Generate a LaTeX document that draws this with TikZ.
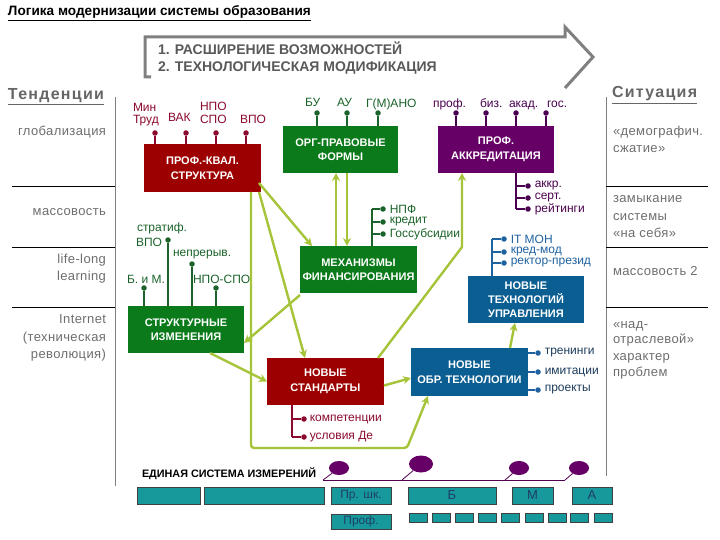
\documentclass[tikz,border=0pt]{standalone}
\usepackage{fontspec}
\setmainfont{Liberation Sans}
\newfontfamily\sidefont[LetterSpace=3]{Liberation Sans}
\newfontfamily\headfont[LetterSpace=8]{Liberation Sans}
\usetikzlibrary{arrows.meta,calc,shapes.geometric}
\definecolor{dred}{HTML}{9C0000}
\definecolor{dgreen}{HTML}{0B7A1A}
\definecolor{dpurple}{HTML}{660066}
\definecolor{dblue}{HTML}{0A5E92}
\definecolor{yg}{HTML}{A5C43A}
\definecolor{lred}{HTML}{8B0A2E}
\definecolor{lgreen}{HTML}{1B632A}
\definecolor{lpurple}{HTML}{4A0050}
\definecolor{lblue}{HTML}{1F62A0}
\definecolor{lnavy}{HTML}{1D3D5C}
\definecolor{gtext}{HTML}{6E6E6E}
\definecolor{teal1}{HTML}{17999B}
\definecolor{tealtext}{HTML}{1F3F66}
\newcommand\fsz[1]{\fontsize{#1}{#1}\selectfont}
\begin{document}
\begin{tikzpicture}[x=1pt,y=-1pt,
  every node/.style={inner sep=0pt,outer sep=0pt},
  box/.style={text=white,font=\fontsize{11}{14.5}\selectfont\bfseries,align=center,minimum width=116pt,minimum height=47pt},
  lab/.style={font=\fsz{12}},
  side/.style={font=\sidefont\fsz{13},text=gtext},
  dotn/.style={circle,minimum size=5.5pt},
  pinl/.style={line width=2pt},
  arr/.style={draw=yg,line width=2.4pt,-{Stealth[length=8pt,width=8pt]}},
  tealbox/.style={draw=black!75,fill=teal1,line width=0.8pt,text=tealtext,font=\fsz{12}},
  pdot/.style={ellipse,fill=dpurple}
]
\useasboundingbox (0,0) rectangle (720,540);
\fill[white] (0,0) rectangle (720,540);

% title
\node[anchor=base west,font=\fsz{13.6}\bfseries] (title) at (8,16) {\underline{Логика модернизации системы образования}};

% big arrow
\draw[gray,line width=3pt,line join=miter] (151,77) -- (145,77) -- (145,37) -- (565,37) -- (565,27) -- (593,57) -- (565,88);
\node[anchor=base west,font=\fsz{14}\bfseries,text=black!65] (t1) at (158,55) {1. РАСШИРЕНИЕ ВОЗМОЖНОСТЕЙ};
\node[anchor=base west,font=\fsz{14}\bfseries,text=black!65] (t2) at (158,72) {2. ТЕХНОЛОГИЧЕСКАЯ МОДИФИКАЦИЯ};

% headings
\node[anchor=base west,font=\headfont\fsz{16}\bfseries,text=black!60] (tend) at (8,100) {\underline{Тенденции}};
\node[anchor=base west,font=\headfont\fsz{16}\bfseries,text=black!60] (sit) at (612,98) {\underline{Ситуация}};

% frame lines
\draw[gray,line width=1pt] (115,97) -- (115,486);
\draw[gray,line width=1pt] (606,97) -- (606,476);
\foreach \yy in {187,247,307}{
  \draw[black,line width=1pt] (12,\yy) -- (115,\yy);
  \draw[black,line width=1pt] (606,\yy) -- (708,\yy);
}

% left side texts
\node[side,anchor=base east] (s1) at (106,136) {глобализация};
\node[side,anchor=base east] (s2) at (106,215) {массовость};
\node[side,anchor=base east] (s3) at (106,263) {life-long};
\node[side,anchor=base east] (s4) at (106,280) {learning};
\node[side,anchor=base east] (s5) at (106,323) {Internet};
\node[side,anchor=base east] (s6) at (106,341) {(техническая};
\node[side,anchor=base east] (s7) at (106,358) {революция)};

% right side texts
\node[side,anchor=base west] (r1) at (613,136) {«демографич.};
\node[side,anchor=base west] (r2) at (613,153) {сжатие»};
\node[side,anchor=base west] (r3) at (613,203) {замыкание};
\node[side,anchor=base west] (r4) at (613,221) {системы};
\node[side,anchor=base west] (r5) at (613,237) {«на себя»};
\node[side,anchor=base west] (r6) at (613,275) {массовость 2};
\node[side,anchor=base west] (r7) at (613,328) {«над-};
\node[side,anchor=base west] (r8) at (613,343) {отраслевой»};
\node[side,anchor=base west] (r9) at (613,360) {характер};
\node[side,anchor=base west] (r10) at (613,376) {проблем};

% boxes
\node[box,fill=dred,minimum width=117pt,minimum height=48pt] (pk) at (202.5,168) {ПРОФ.-КВАЛ.\\СТРУКТУРА};
\node[box,fill=dgreen,minimum width=115pt] (org) at (340.5,149.5) {ОРГ-ПРАВОВЫЕ\\ФОРМЫ};
\node[box,fill=dpurple] (akk) at (496,149.5) {ПРОФ.\\АККРЕДИТАЦИЯ};
\node[box,fill=dgreen,minimum width=117pt] (mex) at (358.5,269.5) {МЕХАНИЗМЫ\\ФИНАНСИРОВАНИЯ};
\node[box,fill=dgreen] (str) at (186,329.5) {СТРУКТУРНЫЕ\\ИЗМЕНЕНИЯ};
\node[box,fill=dred,minimum width=117pt] (std) at (325.5,381.5) {НОВЫЕ\\СТАНДАРТЫ};
\node[box,fill=dblue,minimum width=117pt,minimum height=48pt] (obr) at (469.5,372) {НОВЫЕ\\ОБР. ТЕХНОЛОГИИ};
\node[box,fill=dblue,font=\fontsize{11}{14}\selectfont\bfseries] (ntu) at (526,299.5) {НОВЫЕ\\ТЕХНОЛОГИЙ\\УПРАВЛЕНИЯ};

% red pins above pk
\foreach \n/\xx in {a/155,b/186,c/216,d/246}{
  \node[dotn,fill=lred] (rp\n) at (\xx,133) {};
  \draw[pinl,lred] (rp\n) -- (rp\n |- pk.north);
}
\node[lab,text=lred,anchor=base west] (lMin) at (133,112) {Мин};
\node[lab,text=lred,anchor=base west] (lTrud) at (133,124) {Труд};
\node[lab,text=lred,anchor=base west] (lVAK) at (168,122) {ВАК};
\node[lab,text=lred,anchor=base west] (lNPO) at (200,111) {НПО};
\node[lab,text=lred,anchor=base west] (lSPO) at (200,124) {СПО};
\node[lab,text=lred,anchor=base west] (lVPO) at (240,124) {ВПО};

% green pins above org
\foreach \n/\xx in {a/317,b/347,c/378}{
  \node[dotn,fill=lgreen] (gp\n) at (\xx,113) {};
  \draw[pinl,lgreen] (gp\n) -- (gp\n |- org.north);
}
\node[lab,text=lgreen,anchor=base west] (lBU) at (305,107) {БУ};
\node[lab,text=lgreen,anchor=base west] (lAU) at (337,107) {АУ};
\node[lab,text=lgreen,anchor=base west] (lGM) at (366,108) {Г(М)АНО};

% purple pins above akk
\foreach \n/\xx in {a/456,b/486,c/516,d/546}{
  \node[dotn,fill=lpurple] (pp\n) at (\xx,113) {};
  \draw[pinl,lpurple] (pp\n) -- (pp\n |- akk.north);
}
\node[lab,text=lpurple,anchor=base west] (lprof) at (433,108) {проф.};
\node[lab,text=lpurple,anchor=base west] (lbiz) at (480,108) {биз.};
\node[lab,text=lpurple,anchor=base west] (lakad) at (509,108) {акад.};
\node[lab,text=lpurple,anchor=base west] (lgos) at (547,108) {гос.};

% purple bracket right of akk
\coordinate (ak0) at ([xshift=20]akk.south);
\foreach \n/\yy/\tt in {a/186/аккр.,b/198/серт.,c/209/рейтинги}{
  \node[dotn,fill=lpurple] (ad\n) at (528,\yy) {};
  \node[lab,text=lpurple,anchor=west] (adl\n) at ([xshift=4]ad\n.east) {\tt};
  \draw[pinl,lpurple] (ad\n) -- (ad\n -| ak0);
}
\draw[pinl,lpurple] (ak0) -- (ak0 |- adc);

% green bracket above mex
\coordinate (mx0) at ([xshift=13.5]mex.north);
\foreach \n/\yy/\tt in {a/209/НПФ,b/222/кредит,c/234/Госсубсидии}{
  \node[dotn,fill=lgreen] (md\n) at (383,\yy) {};
  \node[lab,text=lgreen,anchor=west] (mdl\n) at ([xshift=4]md\n.east) {\tt};
  \draw[pinl,lgreen] (md\n) -- (md\n -| mx0);
}
\draw[pinl,lgreen] (mx0) -- (mx0 |- mda);

% blue bracket above ntu
\coordinate (nt0) at ([xshift=-34]ntu.north);
\foreach \n/\yy/\tt in {a/239/IT МОН,b/252/кред-мод,c/263/ректор-презид}{
  \node[dotn,fill=lblue] (nd\n) at (504,\yy) {};
  \node[lab,text=lblue,anchor=west] (ndl\n) at ([xshift=4]nd\n.east) {\tt};
  \draw[pinl,lblue] (nd\n) -- (nd\n -| nt0);
}
\draw[pinl,lblue] (nt0) -- (nt0 |- nda);

% blue bracket right of obr
\foreach \n/\yy/\tt in {a/353/тренинги,b/372/имитации,c/390/проекты}{
  \node[dotn,fill=lblue] (od\n) at (538,\yy) {};
  \node[lab,text=lnavy,anchor=west] (odl\n) at ([xshift=4]od\n.east) {\tt};
  \draw[pinl,lblue] (od\n) -- (od\n -| obr.east);
}

% dark red bracket below std
\coordinate (sd0) at ([xshift=25]std.south west);
\foreach \n/\yy/\tt in {a/419/компетенции,b/437/условия Де}{
  \node[dotn,fill=lred] (sd\n) at (304,\yy) {};
  \node[lab,text=lred,anchor=west] (sdl\n) at ([xshift=3]sd\n.east) {\tt};
  \draw[pinl,lred] (sd\n) -- (sd\n -| sd0);
}
\draw[pinl,lred] (sd0) -- (sd0 |- sdb);

% green pins above str
\node[dotn,fill=lgreen] (sa) at (144,288) {};
\node[dotn,fill=lgreen] (sb) at (168,240) {};
\node[dotn,fill=lgreen] (sc) at (192,264) {};
\node[dotn,fill=lgreen] (sdd) at (216,288) {};
\foreach \n in {sa,sb,sc,sdd}{\draw[pinl,lgreen] (\n) -- (\n |- str.north);}
\node[lab,text=lgreen,anchor=base west] (lstr) at (137,231) {стратиф.};
\node[lab,text=lgreen,anchor=base west] (lvpo2) at (136,246) {ВПО};
\node[lab,text=lgreen,anchor=base west] (lnep) at (173,256) {непрерыв.};
\node[lab,text=lgreen,anchor=base west] (lbm) at (127,283) {Б. и М.};
\node[lab,text=lgreen,anchor=base west] (lnpo2) at (193,283) {НПО-СПО};

% yellow-green arrows
\coordinate (u1) at ([xshift=-4.5]org.south);
\coordinate (u2) at ([xshift=6.5]org.south);
\draw[arr] (u1 |- mex.north) -- (u1);
\draw[arr] (u2) -- (u2 |- mex.north);
\draw[arr] ([shift={(-2,-9)}]pk.south east) -- ([xshift=12]mex.north west);
\draw[arr] ([xshift=-2]pk.south east) -- ([xshift=38]std.north west);
\coordinate (c1) at ([xshift=48.5]pk.south);
\draw[arr,rounded corners=3pt] (c1) -- (c1 |- 0,448) -- (407,448) -- ([xshift=17]obr.south west);
\draw[arr] ([yshift=-2]mex.south west) -- ([yshift=-13.5]str.east);
\draw[arr] ([xshift=24]str.south) -- (std.west);
\coordinate (f1) at ([xshift=24]akk.south west);
\draw[arr] ([xshift=-6]std.north east) -- (f1 |- 0,247) -- (f1);
\draw[arr] ([yshift=-4]std.east) -- ([yshift=-6]obr.west);
\draw[arr] ([xshift=40.5]obr.north) -- ([xshift=-11]ntu.south);

% bottom
\node[anchor=base west,font=\fsz{10.8}\bfseries] (esi) at (142,477) {ЕДИНАЯ СИСТЕМА ИЗМЕРЕНИЙ};
\coordinate (pl0) at (323,480);
\coordinate (pl1) at (565,480);
\draw[dpurple!80!black,line width=1pt] (pl0) -- (pl1);
\node[pdot,minimum width=20pt,minimum height=14pt] (e1) at (339,468) {};
\node[pdot,minimum width=24pt,minimum height=17pt] (e2) at (421,464) {};
\node[pdot,minimum width=20pt,minimum height=14pt] (e3) at (519,468) {};
\node[pdot,minimum width=20pt,minimum height=14pt] (e4) at (579,468) {};
\draw[dpurple!80!black,line width=0.8pt] (pl0) -- (e1);
\draw[dpurple!80!black,line width=0.8pt] (402,480) -- (e2);
\draw[dpurple!80!black,line width=0.8pt] (505,480) -- (e3);
\draw[dpurple!80!black,line width=0.8pt] (pl1) -- (e4);

\node[tealbox,minimum width=63pt,minimum height=17pt] (b1) at (168.5,495.5) {};
\node[tealbox,minimum width=120pt,minimum height=17pt] (b2) at (264,495.5) {};
\node[tealbox,minimum width=60pt,minimum height=17pt] (b3) at (361,495.5) {Пр. шк.};
\node[tealbox,minimum width=88pt,minimum height=17pt,font=\fsz{13}] (b4) at (452,495.5) {Б};
\node[tealbox,minimum width=41pt,minimum height=17pt,font=\fsz{13}] (b5) at (532.5,495.5) {М};
\node[tealbox,minimum width=40pt,minimum height=17pt,font=\fsz{13}] (b6) at (592,495.5) {А};
\node[tealbox,minimum width=60pt,minimum height=15pt] (b7) at (361,521.5) {Проф.};
\foreach \n/\xx in {1/418,2/441,3/464.5,4/487.5,5/510.5,6/534,7/557,8/579.5,9/603}{
  \node[tealbox,minimum width=18pt,minimum height=9pt] (q\n) at (\xx,517.5) {};
}
\end{tikzpicture}
\end{document}
